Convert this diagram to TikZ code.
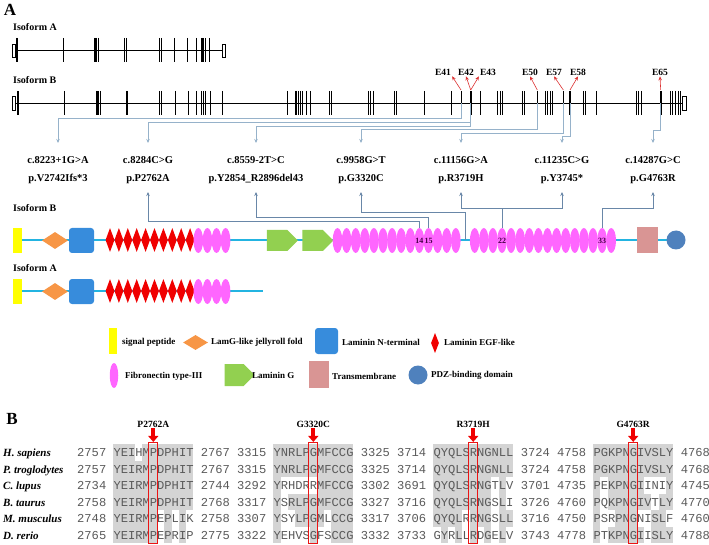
\documentclass[tikz,border=0pt]{standalone}
\usepackage{fontspec}
\setmainfont{Liberation Serif}
\setmonofont{Liberation Mono}
\usetikzlibrary{arrows.meta,shapes.geometric,shapes.symbols}
\definecolor{connA}{RGB}{150,178,202}
\definecolor{connB}{RGB}{105,135,168}
\definecolor{bbone}{RGB}{35,180,225}
\definecolor{sigc}{RGB}{255,255,0}
\definecolor{lamgc}{RGB}{247,150,70}
\definecolor{lamnc}{RGB}{55,140,220}
\definecolor{egfc}{RGB}{240,0,0}
\definecolor{fnc}{RGB}{255,102,255}
\definecolor{lgc}{RGB}{146,208,80}
\definecolor{tmc}{RGB}{217,149,148}
\definecolor{pdzc}{RGB}{79,129,189}
\definecolor{shadec}{RGB}{212,212,212}
\definecolor{seqc}{RGB}{90,90,90}
\definecolor{ered}{RGB}{220,50,50}
\definecolor{boxred}{RGB}{235,20,20}
\definecolor{fnnumc}{RGB}{70,0,70}
\tikzset{
  sigsh/.style={rectangle,fill=sigc,inner sep=0pt,minimum width=9pt,minimum height=25pt},
  lamgsh/.style={diamond,fill=lamgc,inner sep=0pt,minimum width=26pt,minimum height=17pt},
  lamnsh/.style={rectangle,rounded corners=3pt,fill=lamnc,inner sep=0pt,minimum width=25pt,minimum height=25pt},
  egfsh/.style={diamond,fill=egfc,inner sep=0pt,minimum width=9pt,minimum height=24pt},
  fnsh/.style={ellipse,fill=fnc,inner sep=0pt,minimum width=9.6pt,minimum height=25pt},
  lgsh/.style={signal,signal to=east,fill=lgc,inner sep=0pt,minimum width=31pt,minimum height=21pt},
  tmsh/.style={rectangle,fill=tmc,inner sep=0pt,minimum width=21pt,minimum height=26pt},
  pdzsh/.style={circle,fill=pdzc,inner sep=0pt,minimum size=19pt},
  bbline/.style={bbone,line width=2.2pt},
  isolab/.style={font=\bfseries\fontsize{10}{12}\selectfont,inner sep=0pt,anchor=west},
  mutlab/.style={font=\bfseries\fontsize{10.5}{12}\selectfont,inner sep=0pt},
  elab/.style={font=\bfseries\fontsize{9.5}{10}\selectfont,inner sep=1pt},
  leglab/.style={font=\bfseries\fontsize{9}{10}\selectfont,anchor=west,inner sep=0pt},
  fnnum/.style={font=\bfseries\fontsize{8}{9}\selectfont,text=fnnumc,inner sep=0pt},
  panel/.style={font=\bfseries\fontsize{17}{18}\selectfont,inner sep=0pt},
  blab/.style={font=\bfseries\fontsize{9.5}{11}\selectfont,inner sep=0pt},
  spec/.style={font=\bfseries\itshape\fontsize{11}{12}\selectfont,anchor=base west,inner sep=0pt},
  seqrow/.style={font=\ttfamily\fontsize{12.12}{13}\selectfont,text=seqc,anchor=base west,inner sep=0pt},
  exon/.style={line width=0.7pt},
  exthick/.style={line width=1.8pt},
  earr/.style={ered,line width=0.6pt,-{Stealth[length=4pt,width=3.5pt]}},
  ca/.style={connA,line width=0.8pt,-{Stealth[length=4pt,width=3.5pt]}},
  cb/.style={connB,line width=0.8pt,-{Stealth[length=4pt,width=3.5pt]}},
  redbox/.style={draw=boxred,line width=1.1pt,inner sep=0pt,minimum width=9pt,minimum height=101pt},
  redarr/.style={egfc,line width=4pt,-{Triangle[width=10pt,length=6pt]}}
}
\begin{document}
\begin{tikzpicture}[x=1pt,y=-1pt]
\useasboundingbox (0,0) rectangle (709,545);
% ---------- panel A : gene structure ----------
\node[panel] (pA) at (10,10) {A};
\node[isolab] (gA) at (13,27) {Isoform A};
\node[isolab] (gB) at (13,80) {Isoform B};
\draw[line width=0.8pt] (15,50) -- (222,50);
\draw[line width=0.6pt] (12,44) rectangle (15,57);
\draw[line width=0.6pt] (222,44) rectangle (225,57);
\foreach \x in {16,17.7,63,94,95.3,96.7,98,124,126.7,159,161.3,174,187,196,201,202.3,203.7,205,209}
  \draw[exon] (\x,38) -- (\x,62);
\draw[line width=0.8pt] (15,103) -- (682,103);
\draw[line width=0.6pt] (12,96) rectangle (15,110);
\draw[line width=0.6pt] (682,96) rectangle (686,110);
\foreach \x in {17,18.3,64,96,97.3,98.7,100,126,127.7,159.3,161.7,175.7,188.3,196.7,201.7,203.3,205,210.7,222.7,
  287.7,295,296.7,298.3,300,302.7,306,310,329.3,331,368.3,370.7,373.3,394.3,396.7,424,451.7,461,480.7,
  497.7,500,502.7,522.3,524.3,537.3,545,547.3,550,552.3,563.3,583.3,585,596,636,638.3,641,670,672.7,675,678.3,680.7}
  \draw[exon] (\x,91) -- (\x,115);
\foreach \x in {470.7,570,660.7}
  \draw[exthick] (\x,91) -- (\x,115);
% exon labels
\node[elab] (E41) at (443,72) {E41};
\node[elab] (E42) at (466,72) {E42};
\node[elab] (E43) at (488,72) {E43};
\node[elab] (E50) at (530,72) {E50};
\node[elab] (E57) at (554,72) {E57};
\node[elab] (E58) at (578,72) {E58};
\node[elab] (E65) at (660,72) {E65};
\coordinate (t41) at (461,90);
\coordinate (t42) at (470.7,90);
\coordinate (t50) at (537.3,90);
\coordinate (t57) at (563.3,90);
\coordinate (t58) at (570,90);
\coordinate (t65) at (660.7,90);
\draw[earr] (t41) -- (E41.south east);
\draw[earr] (t42) -- (E42.south);
\draw[earr] (t42) -- (E43.south west);
\draw[earr] (t50) -- (E50.south);
\draw[earr] (t57) -- (E57.south);
\draw[earr] (t58) -- (E58.south);
\draw[earr] (t65) -- (E65.south);
% mutation labels
\node[mutlab] (c1) at (58,160) {c.8223+1G>A};
\node[mutlab] (p1) at (58,179) {p.V2742Ifs*3};
\node[mutlab] (c2) at (148,160) {c.8284C>G};
\node[mutlab] (p2) at (148,179) {p.P2762A};
\node[mutlab] (c3) at (256,160) {c.8559-2T>C};
\node[mutlab] (p3) at (256,179) {p.Y2854\_R2896del43};
\node[mutlab] (c4) at (361,160) {c.9958G>T};
\node[mutlab] (p4) at (361,179) {p.G3320C};
\node[mutlab] (c5) at (461,160) {c.11156G>A};
\node[mutlab] (p5) at (461,179) {p.R3719H};
\node[mutlab] (c6) at (562,160) {c.11235C>G};
\node[mutlab] (p6) at (562,179) {p.Y3745*};
\node[mutlab] (c7) at (653,160) {c.14287G>C};
\node[mutlab] (p7) at (653,179) {p.G4763R};
% gene -> mutation connectors
\coordinate (x41) at (461,103);
\coordinate (x42) at (470.7,103);
\coordinate (x50) at (537.3,103);
\coordinate (x57) at (563.3,103);
\coordinate (x58) at (570,103);
\coordinate (x65) at (660.7,103);
\coordinate (d1) at (58,143);
\coordinate (d2) at (148,143);
\coordinate (d3) at (256,143);
\coordinate (d4) at (361,143);
\coordinate (d5) at (461,143);
\coordinate (d6) at (562,143);
\coordinate (d7) at (653,143);
\draw[ca] (x41) |- (58,118) -- (d1);
\draw[ca] (x42) |- (148,122) -- (d2);
\draw[ca] (x42) |- (256,126) -- (d3);
\draw[ca] (x50) |- (361,129.5) -- (d4);
\draw[ca] (x57) |- (461,133) -- (d5);
\draw[ca] (x58) |- (562,136) -- (d6);
\draw[ca] (x65) |- (653,130) -- (d7);
% ---------- protein isoform B ----------
\node[isolab] (prB) at (13,208) {Isoform B};
\draw[bbline] (14,240) -- (676,240);
\node[sigsh] (bsig) at (17.5,240.5) {};
\node[lamgsh] (blamg) at (55,240.5) {};
\node[lamnsh] (blamn) at (81.5,240.5) {};
\foreach \k in {0,...,9} \node[egfsh] (begf\k) at ({110+\k*8.9},240) {};
\foreach \k in {1,...,4} \node[fnsh] (fb\k) at ({198.3+(\k-1)*9.1},240.5) {};
\node[lgsh] (blg1) at (277,240.5) {};
\node[lgsh] (blg2) at (312.5,240.5) {};
\foreach \k in {5,...,18} \node[fnsh] (fb\k) at ({337.5+(\k-5)*9.1},240.5) {};
\foreach \k in {19,...,34} \node[fnsh] (fb\k) at ({474.7+(\k-19)*9.1},240.5) {};
\node[tmsh] (btm) at (647.5,240) {};
\node[pdzsh] (bpdz) at (676,240) {};
\node[fnnum] (n14) at (fb14) {14};
\node[fnnum] (n15) at (fb15) {15};
\node[fnnum] (n22) at (fb22) {22};
\node[fnnum] (n33) at (fb33) {33};
% protein connectors
\coordinate (u2) at (148,192);
\coordinate (u3) at (256,192);
\coordinate (u4) at (361,192);
\coordinate (u5) at (461,192);
\coordinate (u6) at (562,192);
\coordinate (u7) at (653,192);
\coordinate (gapc) at (465,240);
\draw[cb] (fb14.north) |- (148,221) -- (u2);
\draw[cb] (fb15.north) |- (256,217) -- (u3);
\draw[cb] (gapc) |- (361,212) -- (u4);
\draw[cb] (fb22.north) |- (461,208) -- (u5);
\draw[cb] (fb22.north |- 0,208) -| (u6);
\draw[cb] (fb33.north) |- (653,208) -- (u7);
% ---------- protein isoform A ----------
\node[isolab] (prA) at (13,268) {Isoform A};
\draw[bbline] (14,291) -- (263,291);
\node[sigsh] (asig) at (17.5,291.5) {};
\node[lamgsh] (alamg) at (55,291.5) {};
\node[lamnsh] (alamn) at (81.5,291.5) {};
\foreach \k in {0,...,9} \node[egfsh] (aegf\k) at ({110+\k*8.9},291) {};
\foreach \k in {1,...,4} \node[fnsh] (fa\k) at ({198.3+(\k-1)*9.1},291.5) {};
% ---------- legend ----------
\node[sigsh,minimum width=8pt,minimum height=26pt] (lsig) at (113,341) {};
\node[leglab] (tsig) at (122,342) {signal peptide};
\node[lamgsh,minimum width=25pt,minimum height=15pt] (llamg) at (195.5,342.5) {};
\node[leglab] (tlamg) at (211,342) {LamG-like jellyroll fold};
\node[lamnsh,minimum width=23pt,minimum height=26pt] (llamn) at (326.5,341) {};
\node[leglab] (tlamn) at (342,342) {Laminin N-terminal};
\node[egfsh,minimum width=8pt,minimum height=20pt] (legf) at (435,343) {};
\node[leglab] (tegf) at (444,342) {Laminin EGF-like};
\node[fnsh,minimum width=8.5pt,minimum height=25pt] (lfn) at (114,375.5) {};
\node[leglab] (tfn) at (125,376) {Fibronectin type-III};
\node[lgsh,minimum width=30pt,minimum height=22pt] (llg) at (234,375) {};
\node[leglab] (tlg) at (252,375) {Laminin G};
\node[tmsh,minimum width=20pt,minimum height=27pt] (ltm) at (319,374.5) {};
\node[leglab] (ttm) at (332,376) {Transmembrane};
\node[pdzsh] (lpdz) at (418,375) {};
\node[leglab] (tpdz) at (431,375) {PDZ-binding domain};
% ---------- panel B : alignment ----------
\node[panel] (pB) at (12,419) {B};
\foreach \sb/\r/\a/\b in {5/0/0/2,5/0/4/10,5/1/0/10,5/2/0/10,5/3/0/10,5/4/0/5,5/4/7/7,5/4/9/9,5/5/0/5,5/5/7/7,5/5/9/9,
  27/0/0/10,27/1/0/10,27/2/0/0,27/2/6/10,27/3/0/0,27/3/2/10,27/4/0/0,27/4/3/6,27/4/8/10,27/5/0/0,27/5/5/5,27/5/8/10,
  49/0/0/10,49/1/0/10,49/2/0/7,49/2/9/9,49/3/0/7,49/3/9/9,49/4/0/3,49/4/5/7,49/4/9/10,49/5/1/1,49/5/3/3,49/5/5/5,49/5/7/7,49/5/9/9,
  71/0/0/10,71/1/0/10,71/2/0/0,71/2/2/6,71/2/10/10,71/3/0/0,71/3/2/7,71/3/9/10,71/4/0/0,71/4/3/5,71/4/8/9,71/5/0/0,71/5/2/6,71/5/8/10}
  \fill[shadec] ({77+(\sb+\a)*7.27},{444+\r*16.5}) rectangle ({77+(\sb+\b+1)*7.27},{444+(\r+1)*16.5});
\foreach \i/\sp/\s in {
  0/{H. sapiens}/{2757 YEIHMPDPHIT 2767 3315 YNRLPGMFCCG 3325 3714 QYQLSRNGNLL 3724 4758 PGKPNGIVSLY 4768},
  1/{P. troglodytes}/{2757 YEIRMPDPHIT 2767 3315 YNRLPGMFCCG 3325 3714 QYQLSRNGNLL 3724 4758 PGKPNGIVSLY 4768},
  2/{C. lupus}/{2734 YEIRMPDPHIT 2744 3292 YRHDRRMFCCG 3302 3691 QYQLSRNGTLV 3701 4735 PEKPNGIINIY 4745},
  3/{B. taurus}/{2758 YEIRMPDPHIT 2768 3317 YSRLPGMFCCG 3327 3716 QYQLSRNGSLI 3726 4760 PQKPNGIVTLY 4770},
  4/{M. musculus}/{2748 YEIRMPEPLIK 2758 3307 YSYLPGMLCCG 3317 3706 QYQLRRNGSLL 3716 4750 PSRPNGNISLF 4760},
  5/{D. rerio}/{2765 YEIRMPEPRIP 2775 3322 YEHVSGFSCCG 3332 3733 GYRLLRDGELV 3743 4778 PTKPNGIISLY 4788}} {
  \node[spec] (sp\i) at (3,{456.5+\i*16.5}) {\sp};
  \node[seqrow] (row\i) at (77,{456.5+\i*16.5}) {\s};
}
\node[blab] (m1) at (153.3,424) {P2762A};
\node[blab] (m2) at (313.3,424) {G3320C};
\node[blab] (m3) at (473.2,424) {R3719H};
\node[blab] (m4) at (633.2,424) {G4763R};
\node[redbox] (rb1) at (153.3,493) {};
\node[redbox] (rb2) at (313.3,493) {};
\node[redbox] (rb3) at (473.2,493) {};
\node[redbox] (rb4) at (633.2,493) {};
\draw[redarr] ([yshift=-1pt]m1.south) -- (rb1.north);
\draw[redarr] ([yshift=-1pt]m2.south) -- (rb2.north);
\draw[redarr] ([yshift=-1pt]m3.south) -- (rb3.north);
\draw[redarr] ([yshift=-1pt]m4.south) -- (rb4.north);
\end{tikzpicture}
\end{document}
